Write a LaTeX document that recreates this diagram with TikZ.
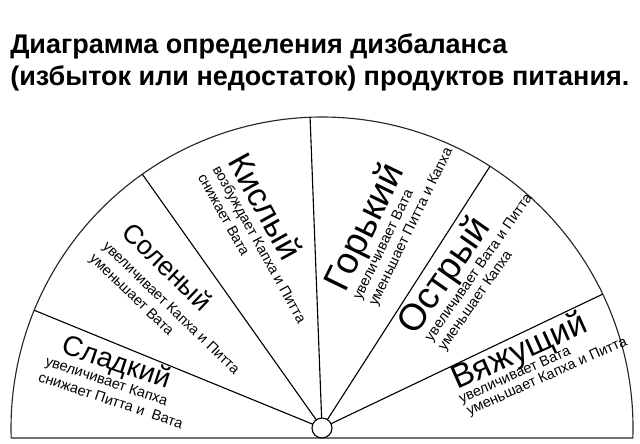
\documentclass[tikz,border=0pt]{standalone}
\usepackage{fontspec}
\setmainfont{Liberation Sans}
\usetikzlibrary{calc}

\tikzset{
  taste/.style={anchor=base west, inner sep=0pt},
  effect/.style={anchor=base west, inner sep=0pt,
    font=\fontsize{10.3}{12}\selectfont},
  heading/.style={anchor=base west, inner sep=0pt,
    font=\fontsize{19.2}{22}\selectfont\bfseries},
  spoke/.style={line width=0.8pt}
}

\begin{document}
\begin{tikzpicture}
  \useasboundingbox (0,0) rectangle (16,11.075);
  \coordinate (O) at (8.05,0.375);

  % title
  \node [heading] (title1) at (0.25,9.75) {Диаграмма определения дизбаланса};
  \node [heading] (title2) at (0.25,8.95) {(избыток или недостаток) продуктов питания.};

  % fan
  \draw [line width=0.8pt, black!85] ($ (O)+(-1.84:7.775) $)
    arc [start angle=-1.84, end angle=181.84, radius=7.775] -- cycle;
  \foreach \a in {157.75,125.3,92.2,57.3,25.5}
    \draw [spoke] ($ (O)+(\a:0.25) $) -- ($ (O)+(\a:7.775) $);
  \draw [spoke, fill=white] (O) circle [radius=0.25];

  % sectors
  \begin{scope}[shift={(1.5,2.26)}, rotate=-18.5, transform shape]
    \node [taste, font=\fontsize{20}{22}\selectfont] (sweet) at (0,0) {Сладкий};
    \node [effect] (sweet-up) at (-0.275,-0.42) {увеличивает Капха};
    \node [effect] (sweet-down) at (-0.31,-0.85) {снижает Питта и~ Вата};
  \end{scope}
  \begin{scope}[shift={(3.0,5.225)}, rotate=-44, transform shape]
    \node [taste, font=\fontsize{19}{21}\selectfont] (salty) at (0,0) {Соленый};
    \node [effect] (salty-up) at (-0.1,-0.55) {увеличивает Капха и Питта};
    \node [effect] (salty-down) at (-0.12,-1.0) {уменьшает Вата};
  \end{scope}
  \begin{scope}[shift={(5.675,7.05)}, rotate=-61, transform shape]
    \node [taste, font=\fontsize{23.5}{25}\selectfont] (sour) at (0,0) {Кислый};
    \node [effect] (sour-up) at (0,-0.42) {возбуждает Капха и Питта};
    \node [effect] (sour-down) at (-0.01,-0.84) {снижает Вата};
  \end{scope}
  \begin{scope}[shift={(8.625,3.73)}, rotate=64, transform shape]
    \node [taste, font=\fontsize{26.5}{28}\selectfont] (bitter) at (0,0) {Горький};
    \node [effect] (bitter-up) at (0.01,-0.43) {увеличивает Вата};
    \node [effect] (bitter-down) at (0.05,-0.85) {уменьшает Питта и Капха};
  \end{scope}
  \begin{scope}[shift={(10.375,2.66)}, rotate=55, transform shape]
    \node [taste, font=\fontsize{26.5}{28}\selectfont] (hot) at (0,0) {Острый};
    \node [effect] (hot-up) at (0.12,-0.42) {увеличивает Вата и Питта};
    \node [effect] (hot-down) at (0.12,-0.82) {уменьшает Капха};
  \end{scope}
  \begin{scope}[shift={(11.44,1.325)}, rotate=24, transform shape]
    \node [taste, font=\fontsize{23.7}{25}\selectfont] (astringent) at (0,0) {Вяжущий};
    \node [effect] (astringent-up) at (-0.05,-0.34) {увеличивает Вата};
    \node [effect] (astringent-down) at (0,-0.7) {уменьшает Капха и Питта};
  \end{scope}
\end{tikzpicture}
\end{document}
